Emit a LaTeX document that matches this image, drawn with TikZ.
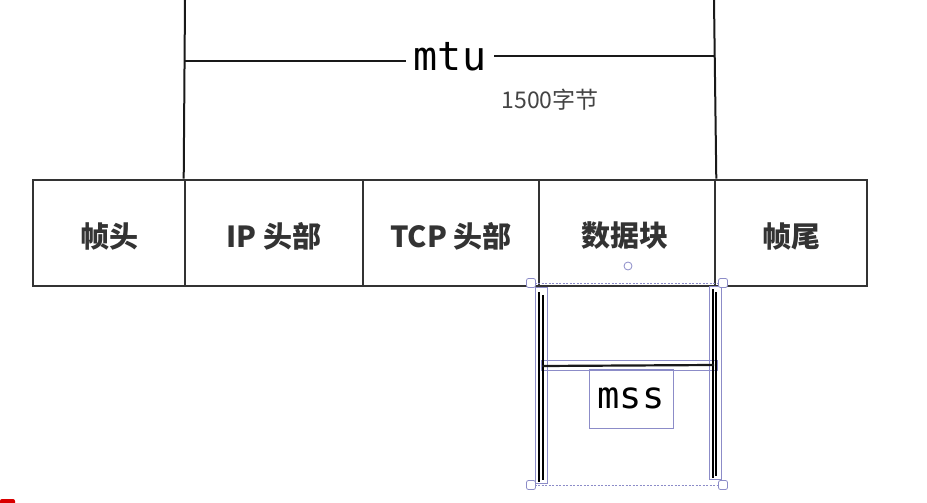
\documentclass[tikz,border=0pt]{standalone}
\usepackage{fontspec}
\newfontfamily\cjk{Noto Sans CJK SC}
\newfontfamily\monof{DejaVu Sans Mono}
\definecolor{ink}{HTML}{333333}
\definecolor{sel}{HTML}{8C8CC8}
\definecolor{grey}{HTML}{444444}
\tikzset{
  cell/.style={draw=ink, line width=2.6pt, minimum height=106pt, inner sep=0pt, text=ink, font=\cjk\bfseries\fontsize{29}{32}\selectfont},
  celltext/.style={text=ink, font=\cjk\bfseries\fontsize{29}{32}\selectfont, inner sep=0pt},
  ruleline/.style={draw=black!90, line width=2pt},
  monolabel/.style={font=\monof\fontsize{40}{44}\selectfont, inner sep=2pt},
  selbox/.style={draw=sel, line width=0.8pt},
  seldash/.style={draw=sel, line width=1pt, dash pattern=on 2pt off 1.5pt},
  handle/.style={draw=sel, fill=white, line width=0.8pt, minimum size=9pt, inner sep=0pt, rounded corners=2pt},
  rothandle/.style={draw=sel, fill=white, line width=0.8pt, circle, minimum size=8pt, inner sep=0pt},
}
\begin{document}
\begin{tikzpicture}[x=1pt,y=-1pt]
\useasboundingbox[fill=white] (0,0) rectangle (927,503);
% table cells
\node[cell, minimum width=152pt] (c1) at (109,233) {};
\node[cell, minimum width=178pt] (c2) at (274,233) {};
\node[cell, minimum width=176pt] (c3) at (451,233) {};
\node[cell, minimum width=176pt] (c4) at (627,233) {};
\node[cell, minimum width=152pt] (c5) at (791,233) {};
\node[celltext] (t1) at (109,236) {帧头};
\node[celltext] (t2) at (274,236) {IP 头部};
\node[celltext] (t3) at (451,236) {TCP 头部};
\node[celltext] (t4) at (625,236) {数据块};
\node[celltext] (t5) at (791,236) {帧尾};
% mtu bracket
\coordinate (mtuLT) at (185,0);
\coordinate (mtuRT) at (714,0);
\coordinate (mtuLM) at (185,61);
\coordinate (mtuRM) at (715,56);
\node[monolabel, inner xsep=8pt] (mtu) at (450,57) {mtu};
\node[font=\cjk\fontsize{23}{26}\selectfont, text=grey] (mtub) at (550,100) {1500字节};
\draw[ruleline] (c2.north west) -- (mtuLT);
\draw[ruleline] (c4.north east) -- (mtuRT);
\draw[ruleline] (mtuLM) -- (mtu.west |- mtuLM);
\draw[ruleline] (mtu.east |- mtuRM) -- (mtuRM);
% mss selection
\coordinate (sTL) at (531,283);
\coordinate (sTR) at (723,283);
\coordinate (sBL) at (531,485);
\coordinate (sBR) at (723,485);
\draw[seldash] (sTL) -- (sTR);
\draw[seldash] (sBL) -- (sBR);
\draw[selbox] (535,287) rectangle (547,483);
\draw[selbox] (709,286) rectangle (721,479);
\draw[selbox] (541,360) rectangle (717,370);
\draw[line width=1.4pt, black] (539,292) -- (539,482);
\draw[line width=1.4pt, black] (543,295) -- (543,480);
\draw[line width=1.4pt, black] (713,289) -- (713,478);
\draw[line width=1.4pt, black] (716,292) -- (716,476);
\draw[line width=2.2pt, black!90] (542,366) -- (714,365);
\node[selbox, monolabel, font=\monof\fontsize{37}{40}\selectfont, minimum width=84pt, minimum height=59pt] (mss) at (631,398.5) {mss};
\node[handle] (h1) at (sTL) {};
\node[handle] (h2) at (sTR) {};
\node[handle] (h3) at (sBL) {};
\node[handle] (h4) at (sBR) {};
\node[rothandle] (rot) at (628,266) {};
% red artifact bottom left
\fill[red!85!black, rounded corners=2pt] (0,499) rectangle (15,505);
\end{tikzpicture}
\end{document}
